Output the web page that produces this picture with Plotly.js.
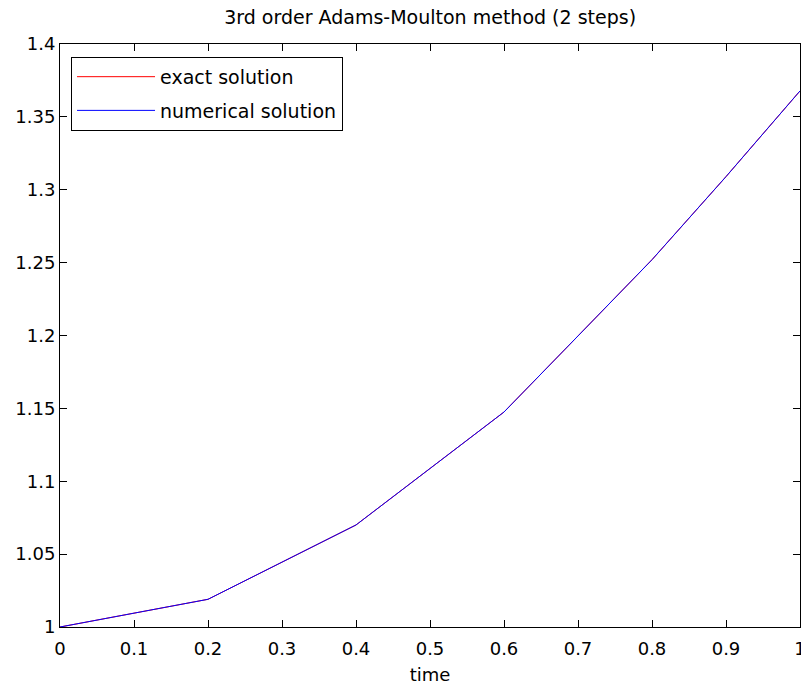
<!DOCTYPE html>
<html>
<head>
<meta charset="utf-8">
<script src="https://cdn.plot.ly/plotly-3.0.1.min.js"></script>
<style>html,body{margin:0;padding:0;background:#fff;}</style>
</head>
<body>
<div id="chart" style="width:801px;height:686px;"></div>
<script>
const time = [0, 0.2, 0.4, 0.6, 0.7, 0.8, 0.9, 1.0];
const exactSolution = [1.0, 1.019, 1.070, 1.1475, 1.1997, 1.252, 1.309, 1.3678];
const numericalSolution = [1.0, 1.019, 1.070, 1.1475, 1.1997, 1.252, 1.309, 1.3678];
const xTicks = [0, 0.1, 0.2, 0.3, 0.4, 0.5, 0.6, 0.7, 0.8, 0.9, 1];
const yTicks = [1, 1.05, 1.1, 1.15, 1.2, 1.25, 1.3, 1.35, 1.4];

const fam = 'DejaVu Sans, Arial, sans-serif';

const traces = [
  {x: time, y: exactSolution, type: 'scatter', mode: 'lines', name: 'exact solution',
   legendgroup: 'a', line: {color: '#ff0000', width: 1}},
  {x: time, y: numericalSolution, type: 'scatter', mode: 'lines', name: 'numerical solution',
   legendgroup: 'b', line: {color: '#0000ff', width: 1}}
];

const layout = {
  width: 801, height: 686,
  margin: {l: 60, r: 1, t: 44, b: 59},
  paper_bgcolor: '#fff', plot_bgcolor: '#fff',
  font: {family: fam, size: 18, color: '#000'},
  title: {text: '3rd order Adams-Moulton method (2 steps)', x: 0.537, xanchor: 'center', y: 0.974, yanchor: 'middle',
          font: {family: fam, size: 19, color: '#000'}},
  xaxis: {
    range: [0, 1], tickvals: xTicks, ticktext: xTicks.map(String),
    ticks: 'inside', ticklen: 7, tickcolor: '#000', tickwidth: 1,
    showline: true, linecolor: '#000', linewidth: 1, mirror: 'ticks',
    showgrid: false, zeroline: false, ticklabeloverflow: 'allow',
    ticklabelstandoff: 5,
    title: {text: 'time', font: {family: fam, size: 18, color: '#000'}, standoff: 10},
    tickfont: {family: fam, size: 18, color: '#000'}
  },
  yaxis: {
    range: [1, 1.4], tickvals: yTicks, ticktext: yTicks.map(String),
    ticks: 'inside', ticklen: 7, tickcolor: '#000', tickwidth: 1,
    showline: true, linecolor: '#000', linewidth: 1, mirror: 'ticks',
    showgrid: false, zeroline: false,
    tickfont: {family: fam, size: 18, color: '#000'}
  },
  legend: {
    x: 0.0149, y: 0.978, xanchor: 'left', yanchor: 'top',
    bordercolor: '#000', borderwidth: 1, bgcolor: '#fff',
    font: {family: fam, size: 19, color: '#000'},
    tracegroupgap: 6, itemwidth: 78
  },
  showlegend: true
};

Plotly.newPlot('chart', traces, layout, {displayModeBar: false, staticPlot: true});
</script>
</body>
</html>
